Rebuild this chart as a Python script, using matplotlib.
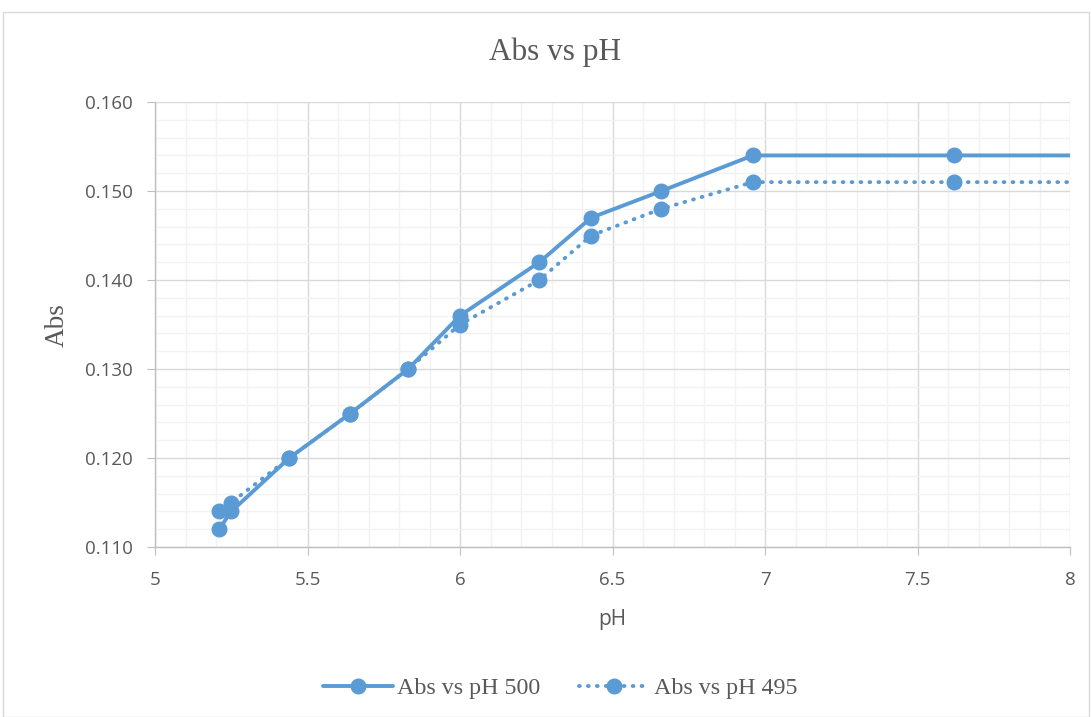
import matplotlib.pyplot as plt
from matplotlib.ticker import MultipleLocator, FormatStrFormatter
from matplotlib.patches import Rectangle

# absorbance readings against pH at two wavelengths
ph_500 = [5.21, 5.25, 5.44, 5.64, 5.83, 6.00, 6.26, 6.43, 6.66, 6.96, 7.62, 8.30]
abs_500 = [0.112, 0.114, 0.120, 0.125, 0.130, 0.136, 0.142, 0.147, 0.150, 0.154, 0.154, 0.154]

ph_495 = [5.21, 5.25, 5.44, 5.64, 5.83, 6.00, 6.26, 6.43, 6.66, 6.96, 7.62, 8.30]
abs_495 = [0.114, 0.115, 0.120, 0.125, 0.130, 0.135, 0.140, 0.145, 0.148, 0.151, 0.151, 0.151]

blue = "#5B9BD5"
text_gray = "#595959"
serif = "Liberation Serif"
sans = "Open Sans"

fig = plt.figure(figsize=(10.91, 7.17), dpi=100)
fig.patches.append(Rectangle((0.003, 0.0), 0.995, 0.983, transform=fig.transFigure,
                             fill=False, edgecolor="#D9D9D9", linewidth=1.0))
ax = fig.add_axes([0.1421, 0.2371, 0.8387, 0.6206])

ax.plot(ph_500, abs_500, color=blue, linewidth=2.8, marker="o", markersize=10.5,
        solid_capstyle="round", label="Abs vs pH 500", zorder=3)
ax.plot(ph_495, abs_495, color=blue, linewidth=2.8, linestyle=(0, (0.2, 2.1)),
        dash_capstyle="round", marker="o", markersize=10.5, label="Abs vs pH 495", zorder=3)

ax.set_xlim(5, 8)
ax.set_ylim(0.110, 0.160)
ax.xaxis.set_major_locator(MultipleLocator(0.5))
ax.xaxis.set_minor_locator(MultipleLocator(0.1))
ax.yaxis.set_major_locator(MultipleLocator(0.01))
ax.yaxis.set_minor_locator(MultipleLocator(0.002))
ax.yaxis.set_major_formatter(FormatStrFormatter("%.3f"))
ax.xaxis.set_major_formatter(plt.FuncFormatter(lambda v, p: f"{v:g}"))

ax.grid(which="minor", color="#F2F2F2", linewidth=1.0, zorder=0)
ax.grid(which="major", color="#D9D9D9", linewidth=1.0, zorder=1)
ax.set_axisbelow(True)

for side in ["top", "right"]:
    ax.spines[side].set_visible(False)
for side in ["left", "bottom"]:
    ax.spines[side].set_color("#BFBFBF")
    ax.spines[side].set_linewidth(1.0)

ax.tick_params(which="major", length=6, color="#BFBFBF", labelcolor=text_gray,
               labelsize=13.5)
ax.tick_params(axis="y", pad=10)
ax.tick_params(axis="x", pad=11)
ax.tick_params(which="minor", length=0)
for lbl in ax.get_xticklabels() + ax.get_yticklabels():
    lbl.set_fontfamily(sans)

fig.text(555 / 1091, 1 - 52 / 717, "Abs vs pH", fontsize=22.5, color=text_gray,
         family=serif, ha="center", va="center")
fig.text(612 / 1091, 1 - 620 / 717, "pH", fontsize=15, color=text_gray,
         family=sans, ha="center", va="center")
fig.text(57 / 1091, 1 - 325 / 717, "Abs", fontsize=19.5, color=text_gray,
         family=serif, ha="center", va="center", rotation=90)

leg = fig.legend(loc="center", bbox_to_anchor=(560 / 1091, 1 - 688 / 717), ncol=2,
                 frameon=False, prop={"family": serif, "size": 17.3}, handlelength=2.9,
                 columnspacing=1.6, handletextpad=0.2)
for t in leg.get_texts():
    t.set_color(text_gray)

fig.savefig("out.png", dpi=100)
